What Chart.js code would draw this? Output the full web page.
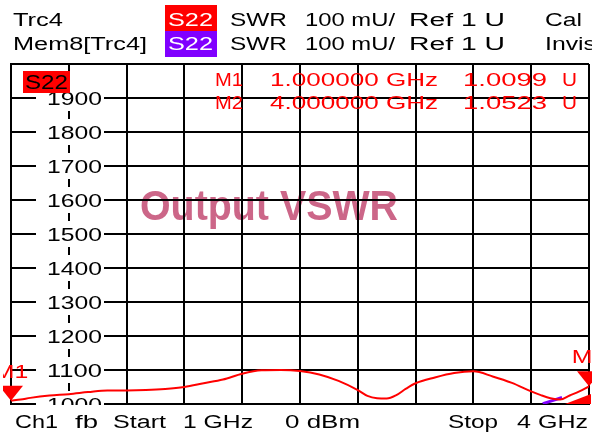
<!DOCTYPE html>
<html>
<head>
<meta charset="utf-8">
<script src="https://cdn.jsdelivr.net/npm/chart.js@4.4.1/dist/chart.umd.min.js"></script>
<style>
  html, body { margin: 0; padding: 0; background: #fff; }
  #vna { display: block; }
</style>
</head>
<body>
<canvas id="vna" width="592" height="435"></canvas>
<script>
// Trace data (frequency in GHz, SWR in mU)
var freqs = [1.0, 1.05, 1.1, 1.2, 1.3, 1.4, 1.5, 1.6, 1.7, 1.8, 1.9, 2.0, 2.1, 2.2, 2.3, 2.4, 2.5, 2.6, 2.7, 2.8, 2.85, 2.9, 2.95, 3.0, 3.05, 3.1, 3.2, 3.3, 3.4, 3.5, 3.6, 3.7, 3.75, 3.8, 3.85, 3.9, 3.95, 4.0];
var swr = [1010, 1013, 1018, 1025, 1029, 1035, 1040, 1040, 1041, 1044, 1050, 1061, 1072, 1089, 1099, 1100, 1097, 1087, 1068, 1041, 1024, 1017, 1016, 1026, 1045, 1061, 1078, 1091, 1096, 1081, 1062, 1037, 1026, 1017, 1013, 1025, 1037, 1052];

// Memory trace (only the part that shows from under Trc4)
var memFreqs = [3.76, 3.81, 3.86];
var memSwr = [1001, 1010, 1019];

// Markers
var markerNames = ['M1', 'M2'];
var markerFreqs = [1.0, 4.0];
var markerValues = [1009.9, 1052.3];

// Grid divisions
var xDivs = [1.0, 1.3, 1.6, 1.9, 2.2, 2.5, 2.8, 3.1, 3.4, 3.7, 4.0];
var yDivs = [1000, 1100, 1200, 1300, 1400, 1500, 1600, 1700, 1800, 1900, 2000];
var yLabels = ['1000', '1100', '1200', '1300', '1400', '1500', '1600', '1700', '1800', '1900'];

var FONT = '"Liberation Sans", Arial, sans-serif';
var RED = '#ff0000';
var PURPLE = '#8000ff';

// Draws text squeezed/stretched to a given width (the screen font is wide)
function fitText(ctx, text, left, width, baseline) {
    var w = ctx.measureText(text).width;
    ctx.save();
    ctx.translate(left, baseline);
    ctx.scale(width / w, 1);
    ctx.textAlign = 'left';
    ctx.textBaseline = 'alphabetic';
    ctx.fillText(text, 0, 0);
    ctx.restore();
}

function centerText(ctx, text, cx, baseline, sx) {
    ctx.save();
    ctx.translate(cx, baseline);
    ctx.scale(sx, 1);
    ctx.textAlign = 'center';
    ctx.textBaseline = 'alphabetic';
    ctx.fillText(text, 0, 0);
    ctx.restore();
}

var vnaPlugin = {
    id: 'vnaScreen',
    beforeDraw: function (chart) {
        var ctx = chart.ctx;
        ctx.save();
        ctx.fillStyle = '#fff';
        ctx.fillRect(0, 0, chart.width, chart.height);

        // header boxes
        ctx.fillStyle = RED;
        ctx.fillRect(165, 5, 52, 26);
        ctx.fillStyle = PURPLE;
        ctx.fillRect(165, 31, 52, 26);

        ctx.font = '18px ' + FONT;
        ctx.fillStyle = '#000';
        var rows = [
            [['Trc4', 13, 50], ['SWR', 230, 57], ['100 mU/', 305, 90], ['Ref 1 U', 409, 96], ['Cal', 545, 37]],
            [['Mem8[Trc4]', 13, 134], ['SWR', 230, 57], ['100 mU/', 305, 90], ['Ref 1 U', 409, 96], ['Invis', 545, 51]]
        ];
        var baselines = [26, 50];
        rows.forEach(function (row, r) {
            row.forEach(function (t) { fitText(ctx, t[0], t[1], t[2], baselines[r]); });
        });
        ctx.fillStyle = '#fff';
        fitText(ctx, 'S22', 168, 45, 26);
        fitText(ctx, 'S22', 168, 45, 50);

        // footer
        ctx.fillStyle = '#000';
        var footer = [['Ch1', 15, 43], ['fb', 75, 23], ['Start', 113, 53], ['1 GHz', 183, 70], ['0 dBm', 285, 75], ['Stop', 448, 50], ['4 GHz', 517, 71]];
        footer.forEach(function (t) { fitText(ctx, t[0], t[1], t[2], 428); });

        // title sits under the grid
        ctx.font = 'bold 42px ' + FONT;
        ctx.fillStyle = '#cc6688';
        fitText(ctx, 'Output VSWR', 140, 258, 220);
        ctx.restore();
    },
    beforeDatasetsDraw: function (chart) {
        var ctx = chart.ctx;
        var area = chart.chartArea;
        var y = chart.scales.y;
        ctx.save();
        ctx.beginPath();
        ctx.rect(area.left, area.top, area.right - area.left, area.bottom - area.top + 1);
        ctx.clip();
        ctx.font = '19px ' + FONT;
        yLabels.forEach(function (lbl) {
            var py = y.getPixelForValue(Number(lbl));
            ctx.fillStyle = '#fff';
            ctx.fillRect(36, py - 13, 68, 26);
            ctx.fillStyle = '#000';
            fitText(ctx, lbl, 47, 55, py + 7);
        });

        // active trace badge
        ctx.fillStyle = RED;
        ctx.fillRect(23, 71, 47, 22);
        ctx.fillStyle = '#000';
        ctx.font = '20px ' + FONT;
        fitText(ctx, 'S22', 25, 43, 89);
        ctx.restore();
    },
    afterDatasetsDraw: function (chart) {
        var ctx = chart.ctx;
        var x = chart.scales.x;
        var y = chart.scales.y;
        ctx.save();

        // marker readout
        ctx.fillStyle = RED;
        ctx.font = '18px ' + FONT;
        markerNames.forEach(function (name, i) {
            var base = 86 + i * 23;
            fitText(ctx, name, 215, 28, base);
            fitText(ctx, markerFreqs[i].toFixed(6) + ' GHz', 270, 168, base);
            fitText(ctx, (markerValues[i] / 1000).toFixed(4), 463, 84, base);
            fitText(ctx, 'U', 562, 15, base);
        });

        // marker triangles
        ctx.beginPath();
        ctx.rect(3, 0, chart.width - 3, chart.height);
        ctx.clip();
        markerNames.forEach(function (name, i) {
            var px = x.getPixelForValue(markerFreqs[i]);
            var py = y.getPixelForValue(markerValues[i]);
            ctx.beginPath();
            ctx.moveTo(px, py);
            ctx.lineTo(px - 12, py - 15);
            ctx.lineTo(px + 12, py - 15);
            ctx.closePath();
            ctx.fill();
            centerText(ctx, name, px, py - 23, 1.38);
        });

        // small wedge under the end of the trace
        var ex = x.getPixelForValue(markerFreqs[1]);
        var eb = y.getPixelForValue(yDivs[0]);
        ctx.beginPath();
        ctx.moveTo(ex - 24, eb);
        ctx.lineTo(ex + 2, eb);
        ctx.lineTo(ex + 2, eb - 10);
        ctx.closePath();
        ctx.fill();
        ctx.restore();
    }
};

function toPoints(xs, ys) {
    return xs.map(function (v, i) { return { x: v, y: ys[i] }; });
}

var ctx = document.getElementById('vna').getContext('2d');
new Chart(ctx, {
    type: 'line',
    data: {
        datasets: [{
            label: 'Mem8[Trc4]',
            data: toPoints(memFreqs, memSwr),
            borderColor: PURPLE,
            borderWidth: 3,
            pointRadius: 0,
            fill: false,
            order: 2
        }, {
            label: 'Trc4',
            data: toPoints(freqs, swr),
            borderColor: RED,
            borderWidth: 2,
            pointRadius: 0,
            fill: false,
            cubicInterpolationMode: 'monotone',
            order: 1
        }]
    },
    options: {
        responsive: false,
        animation: false,
        devicePixelRatio: 1,
        layout: {
            padding: { left: 11, right: 3, top: 64, bottom: 31 }
        },
        plugins: {
            legend: { display: false },
            tooltip: { enabled: false }
        },
        scales: {
            x: {
                type: 'linear',
                min: 1,
                max: 4,
                afterBuildTicks: function (s) { s.ticks = xDivs.map(function (v) { return { value: v }; }); },
                ticks: { display: false },
                grid: { color: '#000', lineWidth: 2, drawTicks: false },
                border: { color: '#000', width: 2 }
            },
            y: {
                type: 'linear',
                min: 1000,
                max: 2000,
                afterBuildTicks: function (s) { s.ticks = yDivs.map(function (v) { return { value: v }; }); },
                ticks: { display: false },
                grid: { color: '#000', lineWidth: 2, drawTicks: false },
                border: { color: '#000', width: 2 }
            }
        }
    },
    plugins: [vnaPlugin]
});
</script>
</body>
</html>
